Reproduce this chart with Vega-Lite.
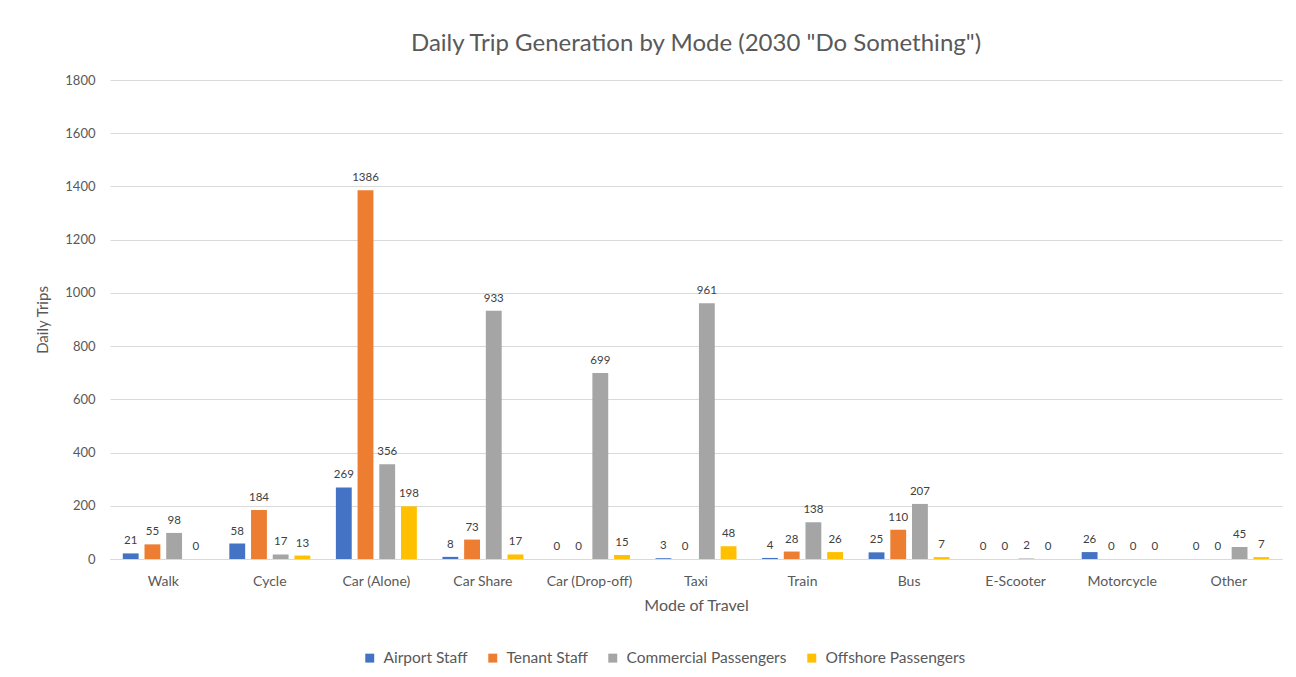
{
  "$schema": "https://vega.github.io/schema/vega-lite/v6.json",
  "width": 1172,
  "height": 479,
  "autosize": {"type": "none"},
  "padding": {"left": 110, "top": 80, "right": 14, "bottom": 118},
  "background": "white",
  "title": {
    "text": "Daily Trip Generation by Mode (2030 \"Do Something\")",
    "font": "Lato",
    "fontSize": 24,
    "fontWeight": "normal",
    "color": "#595959",
    "anchor": "middle",
    "offset": 18
  },
  "config": {
    "view": {"stroke": null},
    "font": "Lato"
  },
  "data": {
    "values": [
      {"mode": "Walk", "group": "Airport Staff", "trips": 21},
      {"mode": "Walk", "group": "Tenant Staff", "trips": 55},
      {"mode": "Walk", "group": "Commercial Passengers", "trips": 98},
      {"mode": "Walk", "group": "Offshore Passengers", "trips": 0},
      {"mode": "Cycle", "group": "Airport Staff", "trips": 58},
      {"mode": "Cycle", "group": "Tenant Staff", "trips": 184},
      {"mode": "Cycle", "group": "Commercial Passengers", "trips": 17},
      {"mode": "Cycle", "group": "Offshore Passengers", "trips": 13},
      {"mode": "Car (Alone)", "group": "Airport Staff", "trips": 269},
      {"mode": "Car (Alone)", "group": "Tenant Staff", "trips": 1386},
      {"mode": "Car (Alone)", "group": "Commercial Passengers", "trips": 356},
      {"mode": "Car (Alone)", "group": "Offshore Passengers", "trips": 198},
      {"mode": "Car Share", "group": "Airport Staff", "trips": 8},
      {"mode": "Car Share", "group": "Tenant Staff", "trips": 73},
      {"mode": "Car Share", "group": "Commercial Passengers", "trips": 933},
      {"mode": "Car Share", "group": "Offshore Passengers", "trips": 17},
      {"mode": "Car (Drop-off)", "group": "Airport Staff", "trips": 0},
      {"mode": "Car (Drop-off)", "group": "Tenant Staff", "trips": 0},
      {"mode": "Car (Drop-off)", "group": "Commercial Passengers", "trips": 699},
      {"mode": "Car (Drop-off)", "group": "Offshore Passengers", "trips": 15},
      {"mode": "Taxi", "group": "Airport Staff", "trips": 3},
      {"mode": "Taxi", "group": "Tenant Staff", "trips": 0},
      {"mode": "Taxi", "group": "Commercial Passengers", "trips": 961},
      {"mode": "Taxi", "group": "Offshore Passengers", "trips": 48},
      {"mode": "Train", "group": "Airport Staff", "trips": 4},
      {"mode": "Train", "group": "Tenant Staff", "trips": 28},
      {"mode": "Train", "group": "Commercial Passengers", "trips": 138},
      {"mode": "Train", "group": "Offshore Passengers", "trips": 26},
      {"mode": "Bus", "group": "Airport Staff", "trips": 25},
      {"mode": "Bus", "group": "Tenant Staff", "trips": 110},
      {"mode": "Bus", "group": "Commercial Passengers", "trips": 207},
      {"mode": "Bus", "group": "Offshore Passengers", "trips": 7},
      {"mode": "E-Scooter", "group": "Airport Staff", "trips": 0},
      {"mode": "E-Scooter", "group": "Tenant Staff", "trips": 0},
      {"mode": "E-Scooter", "group": "Commercial Passengers", "trips": 2},
      {"mode": "E-Scooter", "group": "Offshore Passengers", "trips": 0},
      {"mode": "Motorcycle", "group": "Airport Staff", "trips": 26},
      {"mode": "Motorcycle", "group": "Tenant Staff", "trips": 0},
      {"mode": "Motorcycle", "group": "Commercial Passengers", "trips": 0},
      {"mode": "Motorcycle", "group": "Offshore Passengers", "trips": 0},
      {"mode": "Other", "group": "Airport Staff", "trips": 0},
      {"mode": "Other", "group": "Tenant Staff", "trips": 0},
      {"mode": "Other", "group": "Commercial Passengers", "trips": 45},
      {"mode": "Other", "group": "Offshore Passengers", "trips": 7}
    ]
  },
  "encoding": {
    "x": {
      "field": "mode",
      "type": "nominal",
      "sort": ["Walk", "Cycle", "Car (Alone)", "Car Share", "Car (Drop-off)", "Taxi", "Train", "Bus", "E-Scooter", "Motorcycle", "Other"],
      "scale": {"paddingInner": 0.24, "paddingOuter": 0.12},
      "axis": {
        "title": "Mode of Travel",
        "titleFontSize": 16,
        "titleFontWeight": "normal",
        "titleColor": "#595959",
        "titlePadding": 9,
        "labelAngle": 0,
        "labelFontSize": 14,
        "labelColor": "#595959",
        "labelPadding": 15,
        "ticks": false,
        "domainColor": "#D9D9D9",
        "grid": false
      }
    },
    "xOffset": {
      "field": "group",
      "type": "nominal",
      "sort": ["Airport Staff", "Tenant Staff", "Commercial Passengers", "Offshore Passengers"],
      "scale": {"paddingInner": 0.27}
    },
    "y": {
      "field": "trips",
      "type": "quantitative",
      "scale": {"domain": [0, 1800]},
      "axis": {
        "title": "Daily Trips",
        "titleFontSize": 15,
        "titleFontWeight": "normal",
        "titleColor": "#595959",
        "titlePadding": 14,
        "values": [0, 200, 400, 600, 800, 1000, 1200, 1400, 1600, 1800],
        "format": "d",
        "labelFontSize": 13,
        "labelColor": "#595959",
        "labelPadding": 15,
        "ticks": false,
        "domain": false,
        "gridColor": "#D9D9D9"
      }
    }
  },
  "layer": [
    {
      "mark": {"type": "bar"},
      "encoding": {
        "color": {
          "field": "group",
          "type": "nominal",
          "sort": ["Airport Staff", "Tenant Staff", "Commercial Passengers", "Offshore Passengers"],
          "scale": {
            "domain": ["Airport Staff", "Tenant Staff", "Commercial Passengers", "Offshore Passengers"],
            "range": ["#4472C4", "#ED7D31", "#A5A5A5", "#FFC000"]
          },
          "legend": {
            "title": null,
            "orient": "none",
            "legendX": 252,
            "legendY": 570,
            "direction": "horizontal",
            "symbolType": "square",
            "symbolSize": 80,
            "symbolStrokeWidth": 0,
            "labelFontSize": 15.5,
            "labelColor": "#595959",
            "labelOffset": 6,
            "columnPadding": 17
          }
        }
      }
    },
    {
      "mark": {"type": "text", "dy": -12, "fontSize": 11.5, "color": "#404040"},
      "encoding": {
        "text": {"field": "trips", "type": "quantitative"}
      }
    }
  ]
}
